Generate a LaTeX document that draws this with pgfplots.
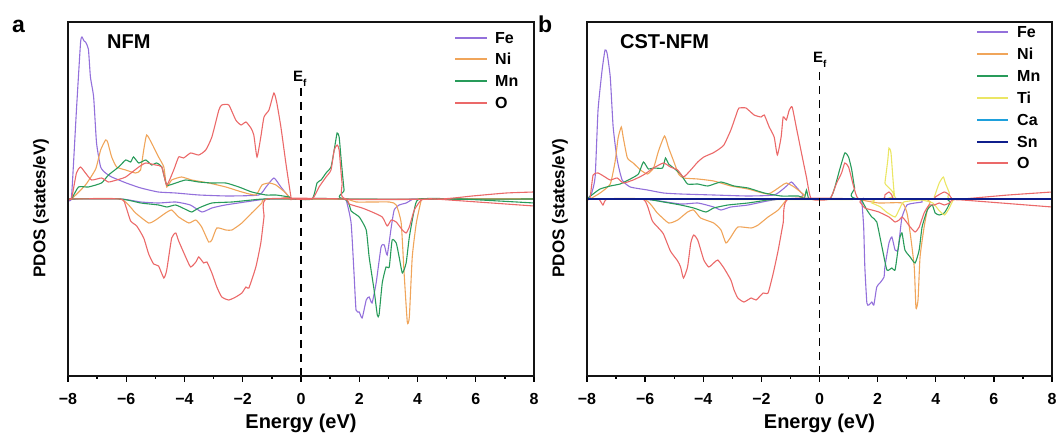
\documentclass[border=0pt]{standalone}
\usepackage{pgfplots}
\pgfplotsset{compat=1.18}
\usepackage{fontspec}
\setmainfont{Liberation Sans}
\definecolor{cFe}{RGB}{147,112,219}
\definecolor{cNi}{RGB}{240,165,90}
\definecolor{cMn}{RGB}{40,155,90}
\definecolor{cO}{RGB}{235,105,105}
\definecolor{cTi}{RGB}{235,230,100}
\definecolor{cCa}{RGB}{30,160,220}
\definecolor{cSn}{RGB}{15,30,140}
\definecolor{cFrame}{RGB}{20,20,20}
\pgfplotsset{pdos/.style={
  scale only axis, width=466pt, height=354pt,
  axis lines=box,
  xmin=-8, xmax=8, ymin=-177, ymax=177,
  xtick={-8,-6,-4,-2,0,2,4,6,8},
  xticklabels={−8,−6,−4,−2,0,2,4,6,8},
  minor xtick={-7,-5,-3,-1,1,3,5,7},
  ytick=\empty,
  xtick pos=bottom,
  tick align=outside,
  major tick length=6pt, minor tick length=3pt,
  every tick/.style={black, line width=1.3pt},
  axis line style={draw=black, line width=1.5pt},
  xticklabel style={font=\fontsize{16}{16}\selectfont\bfseries, anchor=base, yshift=-23pt, inner sep=0pt},
  xlabel={Energy (eV)}, ylabel={PDOS (states/eV)},
  xlabel style={font=\fontsize{20}{20}\selectfont\bfseries, at={(axis description cs:0.5,0)}, anchor=base, yshift=-53pt, inner sep=0pt},
  ylabel style={font=\fontsize{17}{17}\selectfont\bfseries, at={(axis description cs:-0.058,0.4746)}, anchor=center, rotate=0},
  every axis plot/.append style={line width=1.1pt, smooth, tension=0.3},
  clip=false,
}}
\begin{document}
\begin{tikzpicture}[x=1pt,y=1pt]
\path[use as bounding box] (0,0) rectangle (1061,439);
% ---------------- panel a ----------------
\begin{axis}[pdos, at={(68pt,63pt)}, anchor=south west]
% Fe
\addplot[cFe] coordinates {(-8,0) (-7.88,2) (-7.71,89) (-7.57,156) (-7.52,162) (-7.45,158) (-7.4,157) (-7.3,150) (-7.23,122) (-7.12,102) (-7.02,56) (-6.88,32) (-6.71,26) (-6.5,22) (-6.0,16) (-5.5,11) (-4.9,7) (-4.3,6) (-3.5,4) (-2.5,3) (-1.45,4) (-1.2,12) (-0.93,21) (-0.69,12) (-0.41,2) (-0.3,0) (8,0)};
\addplot[cFe] coordinates {(-8,0) (-6.2,0) (-5.5,-3) (-4.9,-4) (-4.3,-3) (-3.8,-6) (-3.4,-13) (-3.06,-9) (-2.6,-6) (-1.45,-1) (-1.1,0) (1.4,0) (1.55,-1) (1.72,-24) (1.82,-74) (1.89,-111) (2.0,-113) (2.1,-119) (2.24,-101) (2.34,-98) (2.44,-104) (2.58,-84) (2.75,-48) (2.86,-46) (2.96,-56) (3.10,-28) (3.2,-11) (3.37,-6) (3.61,-4) (3.79,-1) (3.89,0) (8,0)};
% Ni
\addplot[cNi] coordinates {(-8,0) (-7.88,0) (-7.40,14) (-7.05,30) (-6.88,49) (-6.71,59) (-6.64,57) (-6.5,42) (-6.33,32) (-6.02,29) (-5.68,26) (-5.51,29) (-5.40,49) (-5.30,64) (-5.13,56) (-4.89,42) (-4.71,32) (-4.61,12) (-4.44,19) (-4.10,22) (-3.75,19) (-3.17,16) (-2.58,12) (-2.03,7) (-1.55,4) (-1.34,14) (-1.10,16) (-0.86,14) (-0.52,6) (-0.41,2) (-0.3,0) (8,0)};
\addplot[cNi] coordinates {(-8,0) (-6.2,0) (-5.68,-14) (-5.23,-24) (-4.99,-21) (-4.65,-14) (-4.44,-11) (-4.2,-18) (-3.85,-24) (-3.61,-21) (-3.41,-28) (-3.17,-43) (-3.06,-41) (-2.89,-29) (-2.58,-31) (-2.37,-31) (-2.03,-24) (-1.69,-14) (-1.34,-4) (-1.17,0) (1.48,0) (1.89,-3) (3.03,-3) (3.27,-6) (3.44,-24) (3.54,-74) (3.65,-123) (3.72,-118) (3.82,-58) (3.96,-24) (4.13,-1) (4.2,0) (8,0)};
% Mn
\addplot[cMn] coordinates {(-8,0) (-7.88,0) (-7.64,12) (-7.30,12) (-6.85,16) (-6.61,24) (-6.26,32) (-6.02,39) (-5.85,37) (-5.75,42) (-5.57,36) (-5.33,39) (-5.13,34) (-4.96,36) (-4.78,32) (-4.61,14) (-4.30,16) (-3.96,19) (-3.51,17) (-3.06,16) (-2.58,16) (-2.13,12) (-1.69,7) (-1.20,4) (-0.86,4) (-0.41,2) (-0.3,0) (0.38,0) (0.55,16) (0.69,19) (0.86,26) (1.03,32) (1.14,49) (1.24,66) (1.31,62) (1.38,39) (1.48,9) (1.58,0) (8,0)};
\addplot[cMn] coordinates {(-8,0) (-6.2,0) (-5.5,-4) (-4.89,-6) (-4.6,-8) (-4.3,-6) (-3.92,-11) (-3.75,-13) (-3.51,-9) (-3.06,-4) (-2.37,-3) (-1.69,-1) (-1.2,0) (1.45,0) (1.72,-12) (2.0,-18) (2.24,-31) (2.34,-58) (2.51,-91) (2.62,-116) (2.68,-116) (2.79,-84) (2.92,-68) (3.03,-68) (3.13,-41) (3.27,-44) (3.37,-58) (3.48,-74) (3.61,-64) (3.72,-38) (3.89,-11) (4.06,0) (5.5,0) (8,-4)};
% O
\addplot[cO] coordinates {(-8,0) (-7.88,0) (-7.71,26) (-7.57,32) (-7.40,26) (-7.19,19) (-6.85,21) (-6.61,17) (-6.33,19) (-6.02,22) (-5.57,32) (-5.33,36) (-4.99,34) (-4.78,32) (-4.61,14) (-4.37,29) (-4.20,42) (-4.03,41) (-3.79,46) (-3.51,44) (-3.27,49) (-3.06,62) (-2.82,89) (-2.72,94) (-2.48,94) (-2.24,79) (-2.06,74) (-1.89,77) (-1.72,71) (-1.62,64) (-1.51,42) (-1.38,62) (-1.27,82) (-1.10,89) (-0.93,106) (-0.83,96) (-0.69,72) (-0.52,36) (-0.34,1) (-0.3,0) (0.38,0) (0.62,12) (0.86,22) (1.03,29) (1.14,49) (1.24,54) (1.31,49) (1.41,16) (1.55,0) (4.75,0) (5.88,3) (7.05,6) (8,7)};
\addplot[cO] coordinates {(-8,0) (-6.2,0) (-6.02,-7) (-5.85,-22) (-5.64,-27) (-5.40,-39) (-5.23,-55) (-5.06,-65) (-4.89,-67) (-4.71,-79) (-4.61,-71) (-4.44,-39) (-4.30,-34) (-4.20,-42) (-3.96,-58) (-3.79,-68) (-3.61,-63) (-3.51,-58) (-3.34,-64) (-3.23,-63) (-3.06,-74) (-2.89,-88) (-2.72,-98) (-2.48,-101) (-2.24,-98) (-2.03,-94) (-1.89,-88) (-1.79,-89) (-1.55,-68) (-1.38,-44) (-1.27,-18) (-1.17,0) (1.45,0) (1.65,-5) (2.10,-9) (2.44,-13) (2.79,-18) (2.96,-27) (3.10,-21) (3.27,-23) (3.48,-31) (3.61,-34) (3.72,-28) (3.89,-11) (4.13,-1) (4.40,0) (4.6,0) (8,-7)};
% Fermi level
\addplot[black, line width=1.3pt, dash pattern=on 8pt off 6pt, sharp plot] coordinates {(0,111) (0,-177)};
% frame through the axis
\addplot[cFrame, line width=1.6pt, sharp plot, line join=miter, forget plot] coordinates {(-8,-177) (8,-177) (8,177) (-8,177) (-8,-177)};
\end{axis}
% ---------------- panel b ----------------
\begin{axis}[pdos, at={(587pt,63pt)}, anchor=south west, width=465pt]
% Fe
\addplot[cFe] coordinates {(-8,0) (-7.85,5) (-7.72,22) (-7.62,89) (-7.48,129) (-7.38,149) (-7.31,146) (-7.20,122) (-7.10,72) (-6.96,39) (-6.79,19) (-6.51,12) (-5.92,9) (-5.37,6) (-4.78,5) (-3.64,4) (-2.46,3) (-1.56,4) (-1.21,11) (-0.97,17) (-0.80,12) (-0.55,4) (-0.28,0) (8,0)};
\addplot[cFe] coordinates {(-8,0) (-6.06,0) (-4.78,-5) (-4.19,-4) (-3.64,-8) (-3.39,-11) (-3.05,-8) (-2.46,-6) (-1.32,0) (1.35,0) (1.45,-1) (1.52,-28) (1.56,-68) (1.63,-104) (1.70,-106) (1.80,-103) (1.87,-106) (1.97,-88) (2.08,-84) (2.22,-78) (2.25,-68) (2.39,-44) (2.49,-38) (2.60,-51) (2.70,-51) (2.77,-34) (2.84,-18) (3.01,-6) (3.29,-4) (3.53,-3) (3.77,0) (8,0)};
% Ni
\addplot[cNi] coordinates {(-8,0) (-7.90,0) (-7.55,6) (-7.20,15) (-7.03,38) (-6.93,61) (-6.82,72) (-6.75,61) (-6.61,41) (-6.41,36) (-6.16,29) (-5.92,25) (-5.71,31) (-5.54,48) (-5.33,63) (-5.19,51) (-5.02,38) (-4.85,25) (-4.68,21) (-4.19,20) (-3.64,18) (-3.05,13) (-2.46,10) (-1.77,5) (-1.32,13) (-1.14,16) (-0.87,12) (-0.52,4) (-0.28,0) (8,0)};
\addplot[cNi] coordinates {(-8,0) (-6.06,0) (-5.58,-14) (-5.19,-24) (-4.88,-21) (-4.54,-13) (-4.33,-11) (-4.09,-19) (-3.64,-24) (-3.39,-31) (-3.22,-44) (-3.05,-38) (-2.81,-28) (-2.35,-29) (-2.11,-26) (-1.77,-18) (-1.42,-11) (-1.14,-1) (-1.04,0) (1.4,0) (1.45,-1) (2.04,-4) (2.84,-4) (3.01,-14) (3.12,-34) (3.26,-68) (3.32,-109) (3.39,-101) (3.46,-58) (3.60,-28) (3.71,-11) (3.81,-3) (3.9,0) (8,0)};
% Mn
\addplot[cMn] coordinates {(-8,0) (-7.79,5) (-7.55,10) (-7.20,13) (-6.86,15) (-6.51,20) (-6.23,25) (-6.06,37) (-5.89,30) (-5.71,31) (-5.40,31) (-5.30,41) (-5.19,35) (-5.02,31) (-4.78,25) (-4.54,15) (-4.19,15) (-3.84,13) (-3.39,17) (-2.94,13) (-2.46,11) (-1.90,6) (-1.32,3) (-0.73,3) (-0.52,1) (-0.45,9) (-0.38,1) (-0.28,0) (0.35,0) (0.52,11) (0.69,29) (0.87,46) (1.00,42) (1.11,29) (1.21,11) (1.39,0) (8,0)};
\addplot[cMn] coordinates {(-8,0) (-6.06,0) (-5.37,-3) (-4.78,-6) (-4.33,-9) (-3.91,-13) (-3.64,-9) (-3.15,-6) (-2.46,-4) (-1.77,-1) (-1.1,0) (1.40,0) (1.45,-1) (1.63,-11) (1.80,-18) (1.97,-23) (2.15,-48) (2.32,-71) (2.49,-69) (2.60,-71) (2.70,-51) (2.77,-38) (2.84,-34) (2.94,-51) (3.12,-58) (3.29,-64) (3.43,-51) (3.53,-28) (3.71,-11) (3.88,-6) (3.98,-14) (4.12,-16) (4.29,-14) (4.40,-9) (4.50,-3) (4.57,0) (8,0)};
% Ti
\addplot[cTi] coordinates {(-8,0) (2.15,0) (2.25,16) (2.35,39) (2.39,51) (2.46,46) (2.56,9) (2.67,0) (3.9,0) (3.95,2) (4.12,16) (4.26,22) (4.33,16) (4.47,6) (4.57,0) (8,0)};
\addplot[cTi] coordinates {(-8,0) (1.4,0) (1.8,-4) (2.1,-8) (2.3,-13) (2.6,-18) (2.75,-10) (2.9,-3) (3.5,-1) (3.9,-4) (4.1,-11) (4.3,-16) (4.45,-10) (4.6,-1) (4.7,0) (8,0)};
% Ca
\addplot[cCa] coordinates {(-8,0) (8,0)};
% O
\addplot[cO] coordinates {(-8,0) (-7.9,0) (-7.79,24) (-7.62,26) (-7.38,22) (-7.20,19) (-6.96,21) (-6.75,16) (-6.41,19) (-6.06,24) (-5.71,31) (-5.37,36) (-5.13,32) (-4.88,29) (-4.68,22) (-4.43,29) (-4.19,37) (-3.98,42) (-3.67,46) (-3.50,49) (-3.29,54) (-3.05,69) (-2.81,89) (-2.77,91) (-2.53,91) (-2.25,84) (-2.01,82) (-1.90,84) (-1.73,72) (-1.56,62) (-1.45,44) (-1.32,62) (-1.25,82) (-1.14,79) (-1.04,89) (-0.94,92) (-0.80,72) (-0.62,46) (-0.45,22) (-0.28,0) (0.35,0) (0.59,16) (0.76,26) (0.87,36) (1.00,32) (1.18,12) (1.35,0) (2.2,0) (2.25,4) (2.39,7) (2.49,4) (2.60,0) (3.9,0) (3.98,2) (4.29,7) (4.47,4) (4.57,0) (4.92,0) (6.5,4) (8,7)};
\addplot[cO] coordinates {(-8,0) (-7.6,0) (-7.45,-6) (-7.3,0) (-6.1,0) (-5.92,-7) (-5.75,-22) (-5.54,-29) (-5.37,-35) (-5.13,-52) (-4.88,-62) (-4.78,-68) (-4.68,-79) (-4.54,-68) (-4.43,-44) (-4.33,-36) (-4.19,-41) (-3.98,-61) (-3.81,-68) (-3.64,-64) (-3.50,-61) (-3.29,-69) (-3.05,-81) (-2.94,-91) (-2.81,-99) (-2.60,-103) (-2.35,-99) (-2.18,-101) (-1.94,-94) (-1.77,-94) (-1.59,-74) (-1.42,-51) (-1.25,-24) (-1.07,0) (1.3,0) (1.39,-3) (1.56,-9) (1.80,-11) (2.04,-13) (2.39,-18) (2.60,-23) (2.74,-21) (2.84,-18) (2.94,-21) (3.12,-28) (3.29,-33) (3.43,-28) (3.60,-14) (3.77,-6) (3.95,-6) (4.12,-4) (4.29,-6) (4.47,-4) (4.57,-1) (4.92,-1) (8,-8)};
% Sn
\addplot[cSn, line width=1.4pt] coordinates {(-8,0) (8,0)};
% Fermi level
\addplot[black, line width=1.3pt, dash pattern=on 8pt off 6pt, sharp plot] coordinates {(0,127) (0,-177)};
% frame through the axis
\addplot[cFrame, line width=1.6pt, sharp plot, line join=miter, forget plot] coordinates {(-8,-177) (8,-177) (8,177) (-8,177) (-8,-177)};
\end{axis}
% ---------------- annotations ----------------
\tikzset{lab/.style={inner sep=0pt, anchor=base west}}
\node[lab, font=\fontsize{23}{23}\selectfont\bfseries] at (12,406) {a};
\node[lab, font=\fontsize{23}{23}\selectfont\bfseries] at (538,406) {b};
\node[lab, font=\fontsize{20}{20}\selectfont\bfseries] at (107,390) {NFM};
\node[lab, font=\fontsize{20}{20}\selectfont\bfseries] at (620,390) {CST-NFM};
\node[lab, font=\fontsize{15}{15}\selectfont\bfseries] at (293,357) {E\raisebox{-0.3em}{\fontsize{10}{10}\selectfont f}};
\node[lab, font=\fontsize{15}{15}\selectfont\bfseries] at (813,376) {E\raisebox{-0.3em}{\fontsize{10}{10}\selectfont f}};
% legend a
\foreach \c/\t/\py in {cFe/Fe/38, cNi/Ni/59, cMn/Mn/81, cO/O/103} {
  \draw[\c, line width=1.3pt] (455,439-\py) -- (487,439-\py);
  \node[lab, font=\fontsize{16}{16}\selectfont\bfseries] at (495,439-\py-5.8) {\t};
}
% legend b
\foreach \c/\t/\py in {cFe/Fe/32, cNi/Ni/54, cMn/Mn/76, cTi/Ti/98, cCa/Ca/120, cSn/Sn/142, cO/O/163} {
  \draw[\c, line width=1.3pt] (977,439-\py) -- (1008,439-\py);
  \node[lab, font=\fontsize{16}{16}\selectfont\bfseries] at (1017,439-\py-5.8) {\t};
}
\end{tikzpicture}
\end{document}
